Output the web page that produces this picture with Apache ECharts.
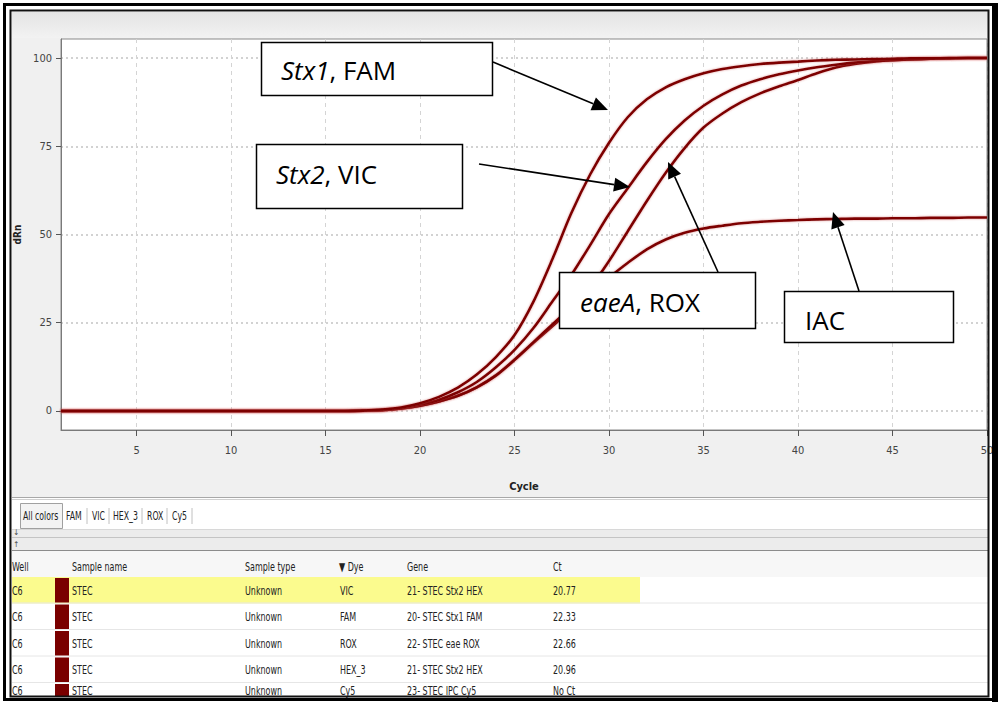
<!DOCTYPE html>
<html>
<head>
<meta charset="utf-8">
<script src="https://cdn.jsdelivr.net/npm/echarts@6/dist/echarts.min.js"></script>
<style>
html,body{margin:0;padding:0;background:#fff;}
#c{width:999px;height:704px;}
</style>
</head>
<body>
<div id="c"></div>
<script>
// ---- data ----
const cycles = [1,2,3,4,5,6,7,8,9,10,11,12,13,14,15,16,17,18,19,20,21,22,23,24,25,26,27,28,29,30,31,32,33,34,35,36,37,38,39,40,41,42,43,44,45,46,47,48,49,50];
const stx1FAM = [0,0,0,0,0,0,0,0,0,0,0,0,0,0,0,0,0.1,0.4,1.0,2.2,4.0,6.6,10.3,15.2,21.5,31,43,56,67,76,83.3,88.3,91.7,94,95.7,96.9,97.7,98.3,98.7,99.0,99.3,99.5,99.6,99.7,99.8,99.9,99.9,100,100,100];
const stx2VIC = [0,0,0,0,0,0,0,0,0,0,0,0,0,0,0,0,0.1,0.3,0.8,1.8,3.2,5.3,8.2,12.3,17.3,23.5,31,38.5,47,55.8,63.2,70.5,77,82.3,86.5,89.7,92.2,94,95.4,96.5,97.4,98.1,98.7,99.1,99.4,99.6,99.8,99.9,100,100];
const eaeAROX = [0,0,0,0,0,0,0,0,0,0,0,0,0,0,0,0,0.1,0.2,0.7,1.5,2.7,4.3,6.7,10,14.5,19.5,24.5,29.5,35,42.5,51,59.5,67.5,74.5,80.3,84.3,87.5,90,92,93.8,95.7,97.3,98.3,99,99.4,99.7,99.8,99.9,100,100];
const iac = [0,0,0,0,0,0,0,0,0,0,0,0,0,0,0,0,0.1,0.2,0.7,1.5,2.7,4.3,6.7,10,14.5,19.3,24,28.8,33.3,37.8,42,45.8,48.6,50.5,51.7,52.5,53.2,53.6,53.9,54.1,54.3,54.4,54.5,54.5,54.6,54.6,54.7,54.7,54.8,54.8];
const cy5 = [0,0,0,0,0,0,0,0,0,0,0,0,0,0,0,0,0,0,0,0,0,0,0,0,0,0,0,0,0,0,0,0,0,0,0,0,0,0,0,0,0,0,0,0,0,0,0,0,0,0];
const xTicks = [5,10,15,20,25,30,35,40,45,50];
const yTicks = [0,25,50,75,100];
const tabLabels = ['FAM','VIC','HEX_3','ROX','Cy5'];
const tableHeader = ['Well','Sample name','Sample type','\u25BC Dye','Gene','Ct'];
const wells = ['C6','C6','C6','C6','C6'];
const sampleNames = ['STEC','STEC','STEC','STEC','STEC'];
const sampleTypes = ['Unknown','Unknown','Unknown','Unknown','Unknown'];
const dyes = ['VIC','FAM','ROX','HEX_3','Cy5'];
const genes = ['21- STEC Stx2 HEX','20- STEC Stx1 FAM','22- STEC eae ROX','21- STEC Stx2 HEX','23- STEC IPC Cy5'];
const cts = ['20.77','22.33','22.66','20.96','No Ct'];
const annotations = [
  {italic:'Stx1', rest:', FAM'},
  {italic:'Stx2', rest:', VIC'},
  {italic:'eaeA', rest:', ROX'},
  {italic:'', rest:'IAC'}
];

// ---- layout / style ----
const uiFont = "'DejaVu Sans Condensed','DejaVu Sans',sans-serif";
const annFont = "'Open Sans','Noto Sans',sans-serif";
const curveColor = '#7d0000';

const chart = echarts.init(document.getElementById('c'), null, {renderer:'svg'});

function arrow(x1,y1,x2,y2){
  const dx=x2-x1, dy=y2-y1, L=Math.hypot(dx,dy), ux=dx/L, uy=dy/L;
  const hl=16, hw=7;
  const bx=x2-ux*hl, by=y2-uy*hl;
  return [
    {type:'line', z:100, shape:{x1:x1,y1:y1,x2:bx,y2:by}, style:{stroke:'#000',lineWidth:1.6}},
    {type:'polygon', z:100, shape:{points:[[x2,y2],[bx-uy*hw,by+ux*hw],[bx+uy*hw,by-ux*hw]]}, style:{fill:'#000'}}
  ];
}
function txt(x,y,t,opt){
  opt = opt||{};
  return {type:'text', z:opt.z||20, x:x, y:y, scaleX:opt.sx||1, style:{text:t, fill:opt.fill||'#222', fontSize:opt.size||11,
    fontFamily:opt.family||uiFont, fontWeight:opt.weight||'normal', align:opt.align||'left', verticalAlign:'middle'}};
}
function rect(x,y,w,h,fill,stroke,z,lw){
  return {type:'rect', z:z===undefined?-10:z, shape:{x:x,y:y,width:w,height:h},
    style:{fill:fill||'none', stroke:stroke||'none', lineWidth:lw||1}};
}
function hline(x1,x2,y,color,z,w){
  return {type:'line', z:z===undefined?-9:z, shape:{x1:x1,y1:y,x2:x2,y2:y}, style:{stroke:color,lineWidth:w||1}};
}

const g = [];
// window background
g.push(rect(12,12,976,486,'#f0f0f0','none',-20));
g.push({type:'rect', z:-19, shape:{x:12,y:12,width:976,height:26},
  style:{fill:new echarts.graphic.LinearGradient(0,0,0,1,[{offset:0,color:'#e4e4e4'},{offset:1,color:'#f2f2f2'}])}});
// lower panel
g.push(hline(12,988,497.5,'#a8a8a8'));
g.push(hline(12,988,499.5,'#d0d0d0'));
g.push(rect(12,500,976,29,'#ffffff'));
g.push(rect(20.5,503.5,42,25,'#f3f3f3','#a0a0a0',-9));
const tabSx = 0.75;
g.push(txt(23,516,'All colors',{sx:tabSx,size:11.5}));
const tabX = [66,92,113,147,172];
const sepX = [87,109,142,167,192];
tabLabels.forEach((t,i)=>{
  g.push(txt(tabX[i],516,t,{sx:tabSx,size:11.5}));
  g.push({type:'line', z:-8, shape:{x1:sepX[i],y1:508,x2:sepX[i],y2:524}, style:{stroke:'#c0c0c0',lineWidth:1}});
});
g.push(rect(12,529,976,22,'#ececec'));
g.push(hline(12,988,529.5,'#d8d8d8'));
g.push(hline(12,988,537.5,'#c4c4c4'));
g.push(hline(12,988,550.5,'#8c8c8c'));
g.push(txt(13,532,'\u2193',{size:8,fill:'#444'}));
g.push(txt(13,544,'\u2191',{size:8,fill:'#444'}));
// table
g.push(rect(12,551,976,146,'#ffffff'));
g.push(rect(12,551,976,26,'#f7f7f7'));
const colX = [12,72,245,339,407,553];
const tblSx = 0.74;
tableHeader.forEach((t,i)=>g.push(txt(colX[i],566,t,{sx:tblSx,size:12})));
const rowH = 26.5;
const tableBottom = 697;
for(let i=0;i<dyes.length;i++){
  const top = 577 + i*rowH;
  const h = Math.min(rowH, tableBottom - top);
  if(i===0) g.push(rect(12,top,628,h,'#fbfb8e'));
  if(top+rowH < tableBottom) g.push(hline(12,988,top+rowH-0.5,'#e6e6e6'));
  g.push(rect(55,top+1,14,h-2,'#7a0000','none',-8));
  const cy = Math.min(top + rowH/2, 690);
  [wells[i],sampleNames[i],sampleTypes[i],dyes[i],genes[i],cts[i]].forEach((t,j)=>{
    g.push(txt(colX[j]+(j===3?1:0),cy,t,{sx:tblSx,size:12}));
  });
}
// annotation boxes
const boxes = [
  {x:261,y:42,w:231,h:53,tx:281,ty:70},
  {x:256,y:144,w:206,h:64,tx:276,ty:174},
  {x:559,y:272,w:196,h:56,tx:580,ty:302},
  {x:784,y:291,w:169,h:51,tx:805,ty:320}
];
boxes.forEach((b,i)=>{
  g.push(rect(b.x+0.5,b.y+0.5,b.w,b.h,'#ffffff','#000',90,1.5));
  const a = annotations[i];
  g.push({type:'text', z:95, x:b.tx, y:b.ty, style:{
    text:(a.italic?'{i|'+a.italic+'}':'')+'{n|'+a.rest+'}',
    verticalAlign:'middle', align:'left',
    rich:{
      i:{fontStyle:'italic', fontSize:26, fontFamily:annFont, fill:'#000'},
      n:{fontSize:26, fontFamily:annFont, fill:'#000'}
    }}});
});
arrow(493,62,608,110).forEach(e=>g.push(e));
arrow(479,164,630,187).forEach(e=>g.push(e));
arrow(718,272,668,162).forEach(e=>g.push(e));
arrow(859,291,833,212).forEach(e=>g.push(e));
// frame
g.push(rect(0,700,999,4,'#ffffff','none',199));
g.push(rect(4.5,4.5,990,695,'none','#000',200,3));
g.push(rect(10.5,10.5,978,686,'none','#111',200,2));
g.push(rect(992,3,6,699,'#000','none',200));

function lineSeries(name, vals){
  return {name:name, type:'line', data:cycles.map((c,i)=>[c,vals[i]]), showSymbol:false,
    smooth:0.3, silent:true, z:5,
    lineStyle:{color:curveColor, width:2.6, shadowColor:'rgba(200,70,70,0.55)', shadowBlur:2}};
}

chart.setOption({
  animation:false,
  backgroundColor:'#ffffff',
  grid:{left:61, top:39, width:926, height:391, show:true, backgroundColor:'#ffffff',
    borderColor:'#8a8a8a', borderWidth:1, outerBoundsMode:'none'},
  xAxis:{type:'value', min:1, max:50,
    axisLine:{show:true, onZero:false, lineStyle:{color:'#7a7a7a'}},
    axisTick:{show:true, customValues:xTicks, length:6, lineStyle:{color:'#555'}},
    axisLabel:{customValues:xTicks, margin:15, color:'#444', fontSize:11, fontFamily:uiFont},
    splitLine:{show:true, lineStyle:{color:'#d4d4d4', type:[4,4], width:1}},
    name:'Cycle', nameLocation:'middle', nameGap:51,
    nameTextStyle:{fontWeight:'bold', fontSize:11, color:'#222', fontFamily:uiFont}},
  yAxis:{type:'value', min:-5.4, max:105.4,
    axisLine:{show:true, lineStyle:{color:'#7a7a7a'}},
    axisTick:{show:true, customValues:yTicks, length:5, lineStyle:{color:'#555'}},
    axisLabel:{customValues:yTicks, margin:9, color:'#444', fontSize:11, fontFamily:uiFont},
    splitLine:{show:true, lineStyle:{color:'#c4c4c4', type:[2,3], width:1.5}},
    name:'dRn', nameLocation:'middle', nameGap:26, nameRotate:90,
    nameTextStyle:{fontWeight:'bold', fontSize:10, color:'#222', fontFamily:uiFont}},
  series:[
    lineSeries('Cy5', cy5),
    lineSeries('IAC', iac),
    lineSeries('eaeA, ROX', eaeAROX),
    lineSeries('Stx2, VIC', stx2VIC),
    lineSeries('Stx1, FAM', stx1FAM)
  ],
  graphic:g
});
</script>
</body>
</html>
